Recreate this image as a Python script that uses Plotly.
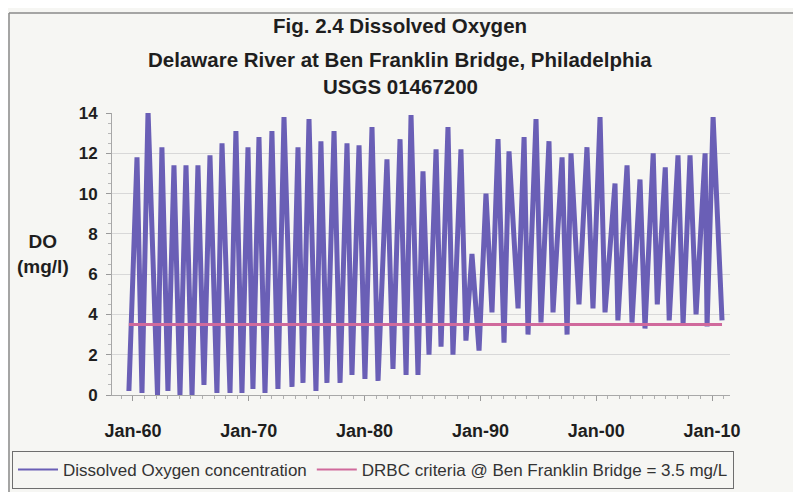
import pandas as pd
import plotly.graph_objects as go

# ---------------- data ----------------
# time in decimal years, dissolved oxygen in mg/l (alternating winter highs / summer lows)
do_time = [1959.65, 1960.35, 1960.78, 1961.30, 1962.12, 1962.50, 1963.02, 1963.54, 1964.06, 1964.58,
           1965.10, 1965.61, 1966.13, 1966.65, 1967.25, 1967.69, 1968.38, 1968.89, 1969.41, 1969.93,
           1970.36, 1970.88, 1971.40, 1972.00, 1972.52, 1973.04, 1973.73, 1974.25, 1974.68, 1975.20,
           1975.80, 1976.23, 1976.75, 1977.36, 1977.88, 1978.48, 1978.91, 1979.52, 1980.03, 1980.64,
           1981.16, 1981.93, 1982.45, 1983.06, 1983.58, 1984.01, 1984.61, 1985.04, 1985.56, 1986.17,
           1986.60, 1987.20, 1987.63, 1988.32, 1988.75, 1989.27, 1989.88, 1990.48, 1991.00, 1991.52,
           1992.04, 1992.47, 1993.25, 1993.77, 1994.11, 1994.80, 1995.23, 1995.92, 1996.27, 1997.05,
           1997.48, 1997.82, 1998.51, 1999.20, 1999.72, 2000.33, 2000.76, 2001.62, 2001.87, 2002.66,
           2003.09, 2003.78, 2004.21, 2004.92, 2005.27, 2005.96, 2006.30, 2007.06, 2007.50, 2008.10,
           2008.62, 2009.40, 2009.57, 2010.09, 2010.86]
do_value = [0.2, 11.8, 0.1, 14.1, 0.0, 12.3, 0.2, 11.4, 0.0, 11.4,
            0.0, 11.4, 0.5, 11.9, 0.1, 12.5, 0.1, 13.1, 0.1, 12.3,
            0.3, 12.8, 0.1, 13.1, 0.3, 13.8, 0.4, 12.3, 0.6, 13.7,
            0.2, 12.6, 0.6, 13.1, 0.6, 12.5, 1.0, 12.4, 0.8, 13.3,
            0.7, 11.7, 1.3, 12.7, 1.0, 13.9, 1.0, 11.1, 2.0, 12.2,
            2.4, 13.3, 2.0, 12.2, 2.7, 7.0, 2.2, 10.0, 4.1, 12.7,
            2.6, 12.1, 4.3, 12.8, 3.0, 13.7, 3.6, 12.6, 4.1, 11.8,
            3.0, 12.0, 4.5, 12.3, 4.3, 13.8, 4.1, 10.5, 3.7, 11.4,
            3.6, 10.7, 3.3, 12.0, 4.5, 11.3, 3.7, 11.9, 3.5, 11.9,
            4.0, 12.0, 3.4, 13.8, 3.7]

criteria_time = [1959.65, 2010.86]
criteria_value = [3.5, 3.5]

y_ticks = [0, 2, 4, 6, 8, 10, 12, 14]
x_tick_years = [1960, 1970, 1980, 1990, 2000, 2010]
x_tick_labels = ["Jan-60", "Jan-70", "Jan-80", "Jan-90", "Jan-00", "Jan-10"]

name_do = "Dissolved Oxygen concentration"
name_crit = "DRBC criteria @ Ben Franklin Bridge = 3.5 mg/L"
title_lines = ["Fig. 2.4 Dissolved Oxygen",
               "Delaware River at Ben Franklin Bridge, Philadelphia",
               "USGS 01467200"]


def to_date(t):
    y = int(t)
    return pd.Timestamp(year=y, month=1, day=1) + pd.Timedelta(days=(t - y) * 365.25)


# ---------------- layout geometry (target page pixels) ----------------
OFF = 8                      # page body margin offsets the figure by 8 px
PAGE_W, PAGE_H = 801, 492
W, H = PAGE_W - OFF, PAGE_H - OFF
PL, PR, PT, PB = 112, 730, 113, 395   # plot area in page pixels


def fx(px):
    return (px - PL) / (PR - PL)


def fy(py):
    return (PB - py) / (PB - PT)


BG = "#f6f6f3"
TXT = "#1e1e1e"
FONT = "Liberation Sans, Arial, sans-serif"
C_DO = "#6a5fb6"
C_CRIT = "#d06a9c"

do_dates = [to_date(t) for t in do_time]
crit_dates = [to_date(t) for t in criteria_time]

fig = go.Figure()
fig.add_trace(go.Scatter(x=do_dates, y=do_value, mode="lines", name=name_do,
                         line=dict(color=C_DO, width=5), showlegend=False))
fig.add_trace(go.Scatter(x=crit_dates, y=criteria_value, mode="lines", name=name_crit,
                         line=dict(color=C_CRIT, width=3), showlegend=False))
# legend entries drawn with thin sample lines, as in the reference
fig.add_trace(go.Scatter(x=[None], y=[None], mode="lines", name=name_do,
                         line=dict(color=C_DO, width=2)))
fig.add_trace(go.Scatter(x=[None], y=[None], mode="lines", name=name_crit,
                         line=dict(color=C_CRIT, width=2)))

for txt, py in zip(title_lines, [25, 59, 86]):
    fig.add_annotation(text=txt, x=fx(400), y=fy(py), xref="paper", yref="paper",
                       showarrow=False, xanchor="center", yanchor="middle",
                       font=dict(family=FONT, size=20.5, color=TXT, weight=700))

fig.add_annotation(text="DO<br>(mg/l)", x=fx(43), y=fy(254), xref="paper", yref="paper",
                   showarrow=False, xanchor="center", yanchor="middle",
                   font=dict(family=FONT, size=19, color=TXT, weight=700))

# outer chart border (top and left edges visible)
fig.add_shape(type="line", xref="paper", yref="paper", x0=fx(9), x1=fx(820), y0=fy(13), y1=fy(13),
              line=dict(color="#8a8a8a", width=1.5))
fig.add_shape(type="line", xref="paper", yref="paper", x0=fx(9), x1=fx(9), y0=fy(13), y1=fy(500),
              line=dict(color="#8a8a8a", width=1.5))

fig.update_layout(
    width=W, height=H,
    margin=dict(l=PL - OFF, r=PAGE_W - PR, t=PT - OFF, b=PAGE_H - PB, pad=0, autoexpand=False),
    paper_bgcolor=BG, plot_bgcolor=BG,
    font=dict(family=FONT, color=TXT),
    showlegend=True,
    legend=dict(orientation="h", xref="paper", yref="paper",
                x=fx(12), y=fy(451), xanchor="left", yanchor="top",
                bordercolor="#6e6e6e", borderwidth=1, bgcolor=BG,
                font=dict(family=FONT, size=17, color="#333333"),
                itemwidth=40, tracegroupgap=0),
)

fig.update_xaxes(
    type="date", automargin=False,
    range=[to_date(1958.19), to_date(2011.55)],
    tickmode="array",
    tickvals=[to_date(y) for y in x_tick_years],
    ticktext=x_tick_labels,
    ticks="outside", ticklen=5, tickcolor="#9a9a9a",
    ticklabelstandoff=14,
    tickfont=dict(family=FONT, size=18, color=TXT, weight=700),
    showgrid=False, zeroline=False,
    showline=True, linecolor="#a8a8a8", linewidth=1,
    minor=dict(ticks="outside", ticklen=3, tickcolor="#b0b0b0",
               tickvals=[to_date(y) for y in range(1958, 2012)]),
)
fig.update_yaxes(
    range=[0, 14], automargin=False,
    tickvals=y_ticks,
    ticks="outside", ticklen=5, tickcolor="#9a9a9a",
    ticklabelstandoff=5,
    tickfont=dict(family=FONT, size=17, color=TXT, weight=700),
    showgrid=True, gridcolor="#d8d8d8", gridwidth=1,
    zeroline=False,
    showline=True, linecolor="#a8a8a8", linewidth=1,
    minor=dict(ticks="outside", ticklen=3, tickcolor="#b8b8b8", dtick=0.5),
)

fig.write_html("out.html")
